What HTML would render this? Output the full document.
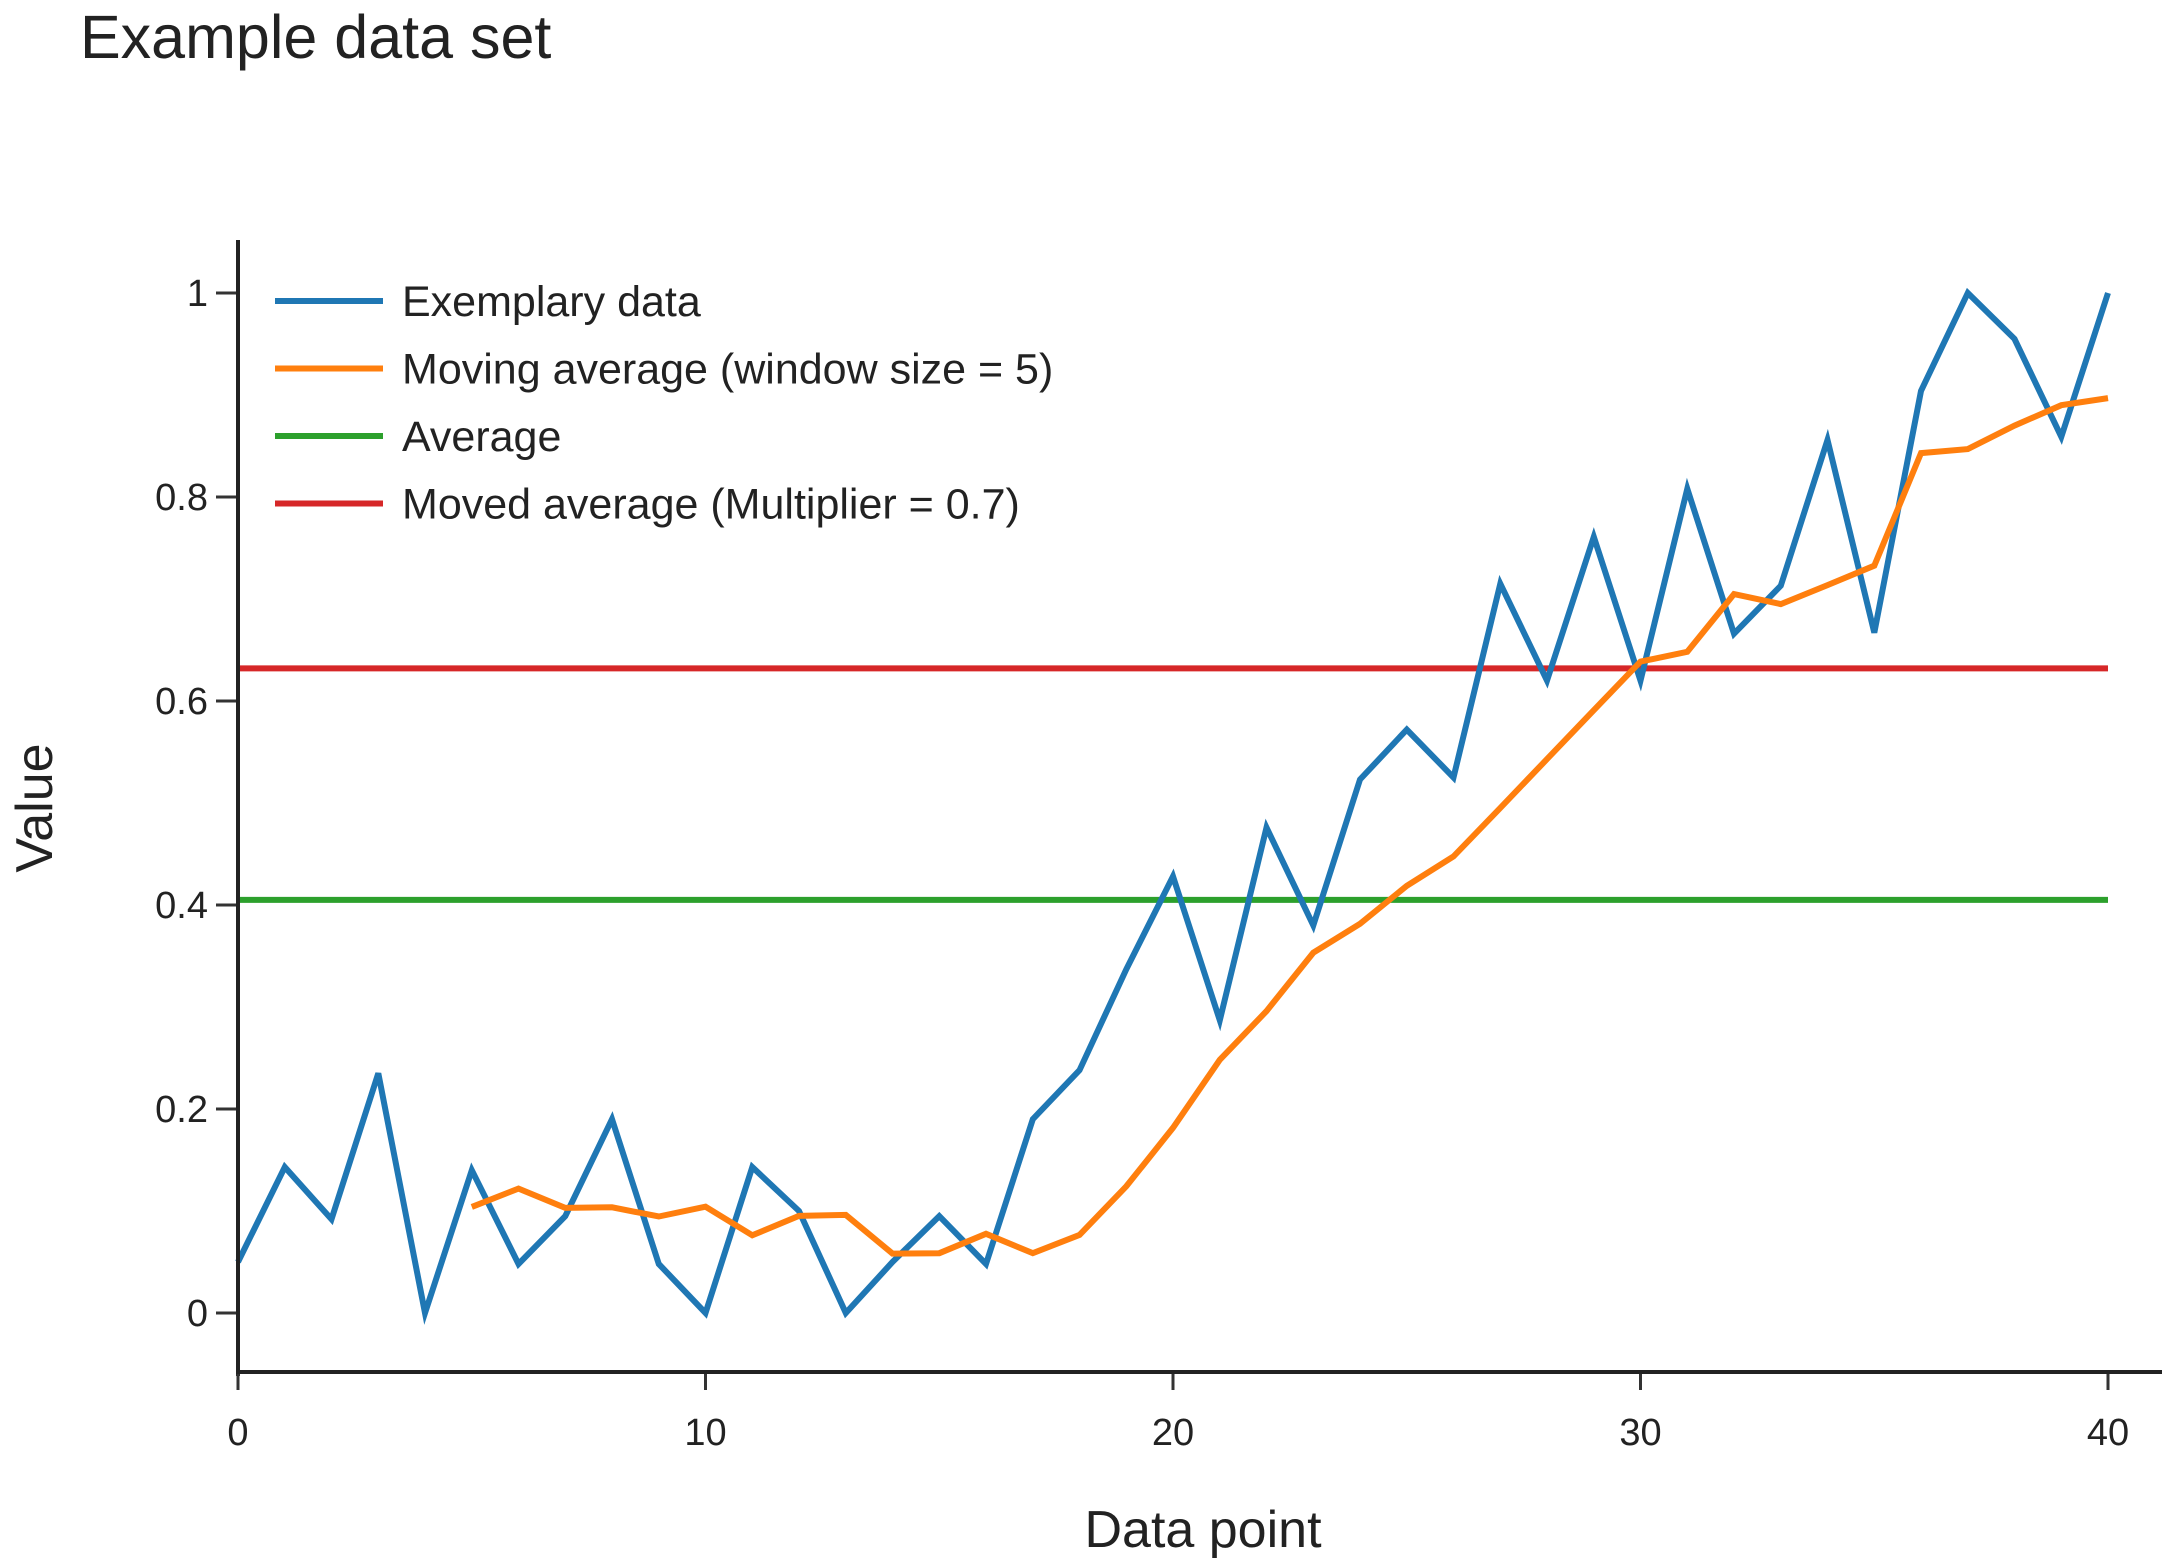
<!DOCTYPE html>
<html><head><meta charset="utf-8"><style>
html,body{margin:0;padding:0;background:#fff;}
svg{display:block;font-family:"Liberation Sans",sans-serif;}
</style></head><body>
<svg id="s" width="2170" height="1565" viewBox="0 0 2170 1565" xmlns="http://www.w3.org/2000/svg">
<rect width="2170" height="1565" fill="#fff"/>
<text x="80" y="58" font-size="61" fill="#222">Example data set</text>
<g id="plot"></g>
<text x="1203" y="1547" font-size="52" fill="#222" text-anchor="middle">Data point</text>
<text transform="translate(52,808) rotate(-90)" font-size="52" fill="#222" text-anchor="middle">Value</text>
</svg>
<script>
var d=[0.05,0.143,0.092,0.235,0,0.14,0.048,0.095,0.19,0.048,0,0.143,0.1,0,0.05,0.095,0.048,0.19,0.238,0.337,0.428,0.287,0.476,0.38,0.523,0.572,0.525,0.715,0.62,0.761,0.62,0.808,0.666,0.713,0.856,0.667,0.904,1.0,0.955,0.859,1.0];
function X(i){return 238+i*46.75;}function Y(v){return 1313-v*1020;}
var g='';
function pl(pts,c){return '<polyline fill="none" stroke="'+c+'" stroke-width="6" stroke-linejoin="miter" points="'+pts.map(p=>X(p[0]).toFixed(1)+','+Y(p[1]).toFixed(1)).join(' ')+'"/>';}
var avg=0.405, mv=0.632;
g+=pl([[0,mv],[40,mv]],'#d62728');
g+=pl([[0,avg],[40,avg]],'#2ca02c');
var ma=[];for(var i=5;i<=35;i++){var s=0;for(var k=i-5;k<i;k++)s+=d[k];ma.push([i,s/5]);}
ma.push([36,0.843],[37,0.847],[38,0.87],[39,0.89],[40,0.897]);
g+=pl(d.map((v,i)=>[i,v]),'#1f77b4');
g+=pl(ma,'#ff7f0e');
g+='<line x1="238" y1="240" x2="238" y2="1376" stroke="#222" stroke-width="4"/>';
g+='<line x1="236" y1="1372" x2="2162" y2="1372" stroke="#222" stroke-width="4"/>';
var yl=['0','0.2','0.4','0.6','0.8','1'];
for(var j=0;j<6;j++){var y=Y(j*0.2);g+='<line x1="216" y1="'+y+'" x2="236" y2="'+y+'" stroke="#333" stroke-width="3"/>';g+='<text x="208" y="'+(y+13)+'" font-size="38" fill="#222" text-anchor="end">'+yl[j]+'</text>';}
for(var j=0;j<=4;j++){var x=X(j*10);g+='<line x1="'+x+'" y1="1374" x2="'+x+'" y2="1390" stroke="#333" stroke-width="3"/>';g+='<text x="'+x+'" y="1445" font-size="38" fill="#222" text-anchor="middle">'+(j*10)+'</text>';}
var L=[['Exemplary data','#1f77b4'],['Moving average (window size = 5)','#ff7f0e'],['Average','#2ca02c'],['Moved average (Multiplier = 0.7)','#d62728']];
for(var j=0;j<4;j++){var y=301+j*67.5;g+='<line x1="275" y1="'+y+'" x2="383" y2="'+y+'" stroke="'+L[j][1]+'" stroke-width="6"/>';g+='<text x="402" y="'+(y+15)+'" font-size="43" fill="#222">'+L[j][0]+'</text>';}
document.getElementById('plot').innerHTML=g;
</script>
</body></html>
